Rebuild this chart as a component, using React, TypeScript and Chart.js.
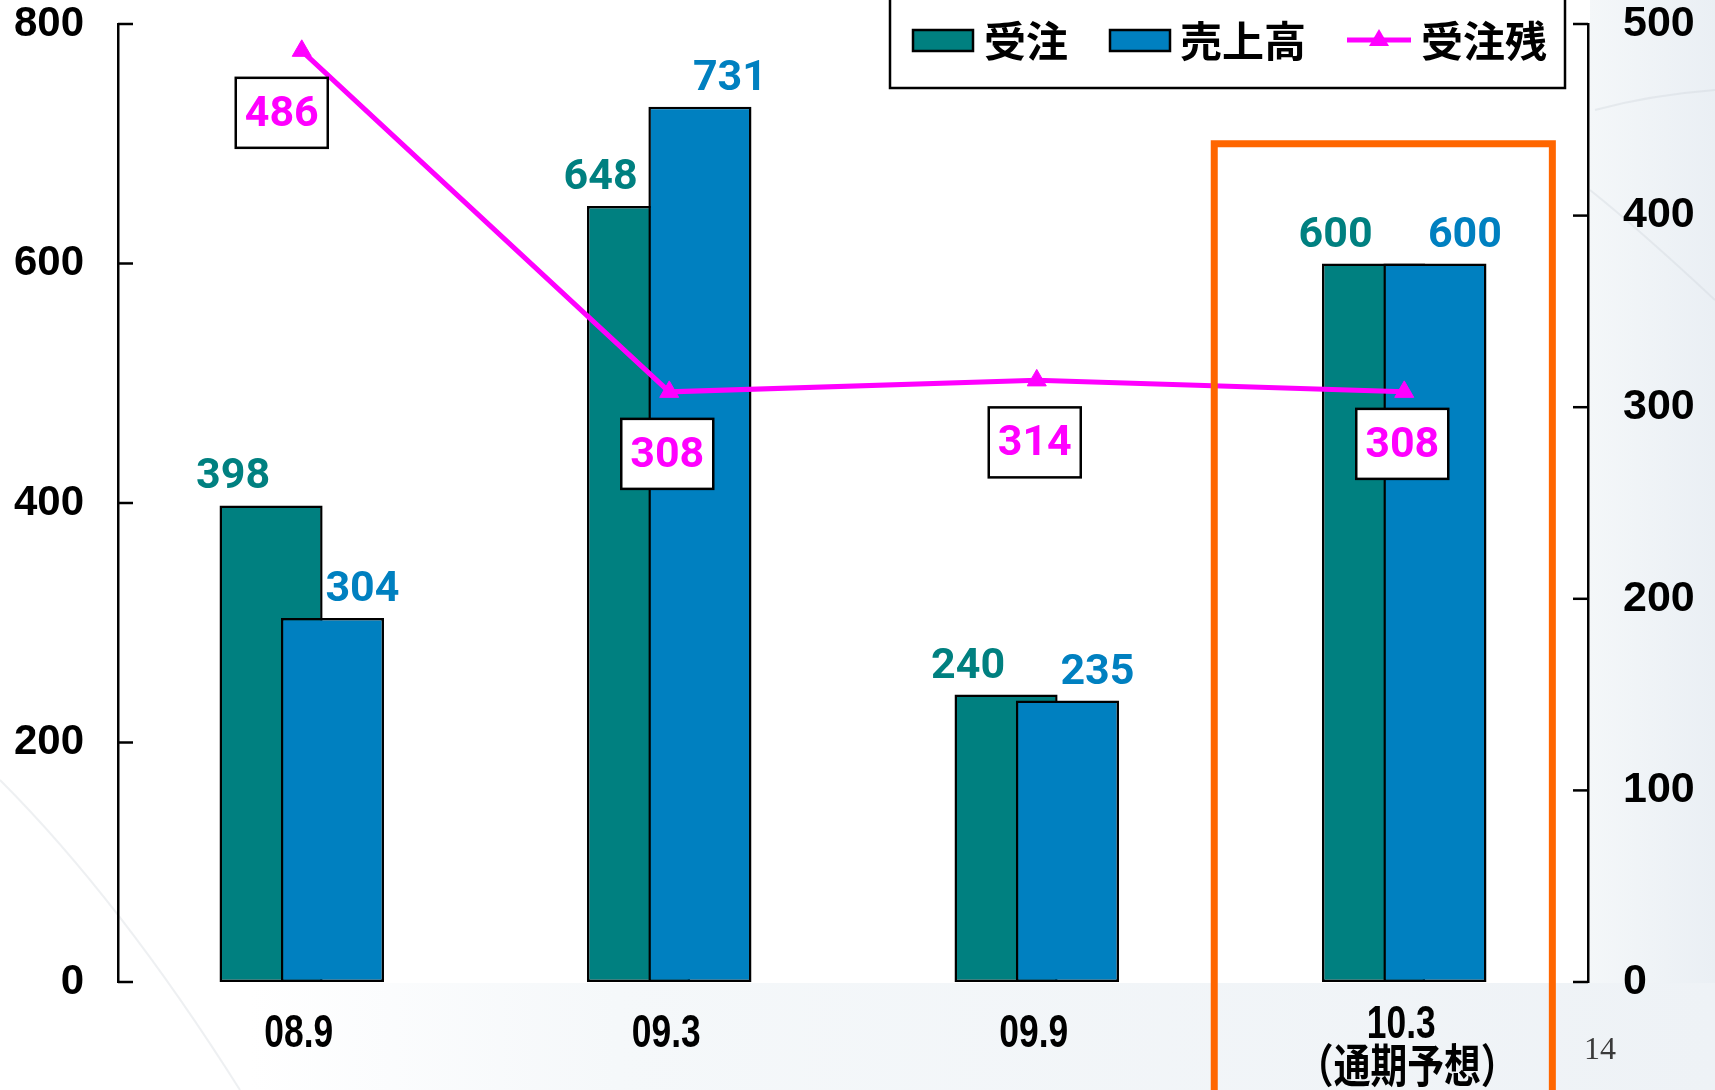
import React, { useEffect, useRef } from "react";
import { Chart, registerables } from "chart.js";

Chart.register(...registerables);

// ---- Data ----
const categories: (string | string[])[] = ["08.9", "09.3", "09.9", ["10.3", "（通期予想）"]];
const ordersReceived = [398, 648, 240, 600]; // 受注
const sales = [304, 731, 235, 600]; // 売上高
const backlog = [486, 308, 314, 308]; // 受注残
const seriesNames = ["受注", "売上高", "受注残"];
const leftAxis = { min: 0, max: 800, step: 200 };
const rightAxis = { min: 0, max: 500, step: 100 };
const highlight = { index: 3, topValue: 700 };
const pageNumber = "14";

// ---- Styles ----
const TEAL = "#008080";
const BLUE = "#0080C0";
const MAGENTA = "#FF00FF";
const ORANGE = "#FF6600";
const LABEL_FONT = "bold 43px Roboto, 'Liberation Sans', sans-serif";
const CJK_FONT = "bold 42px 'Noto Sans CJK JP', sans-serif";
const CAT_FONT = "bold 46px 'Liberation Sans', 'Noto Sans CJK JP', sans-serif";

const bgPlugin = {
  id: "bgPaint",
  beforeDraw(chart: any) {
    const { ctx, width, height, chartArea } = chart;
    ctx.save();
    ctx.fillStyle = "#ffffff";
    ctx.fillRect(0, 0, width, height);
    const gR = ctx.createLinearGradient(chartArea.right, 0, width, 0);
    gR.addColorStop(0, "#F4F7F9");
    gR.addColorStop(1, "#EAEFF4");
    ctx.fillStyle = gR;
    ctx.fillRect(chartArea.right + 2, 0, width - chartArea.right, height);
    const gB = ctx.createLinearGradient(250, 0, width, 0);
    gB.addColorStop(0, "rgba(244,247,250,0)");
    gB.addColorStop(0.25, "#F5F8FA");
    gB.addColorStop(1, "#EEF2F6");
    ctx.fillStyle = gB;
    ctx.fillRect(0, chartArea.bottom + 1, width, height - chartArea.bottom);
    ctx.strokeStyle = "rgba(200,205,212,0.3)";
    ctx.lineWidth = 2;
    ctx.beginPath();
    ctx.moveTo(0, 780);
    ctx.quadraticCurveTo(120, 900, 240, 1090);
    ctx.stroke();
    ctx.beginPath();
    ctx.moveTo(1595, 110);
    ctx.quadraticCurveTo(1650, 95, 1715, 90);
    ctx.stroke();
    ctx.beginPath();
    ctx.moveTo(1715, 300);
    ctx.quadraticCurveTo(1640, 230, 1590, 190);
    ctx.stroke();
    ctx.restore();
  },
};

// draw teal first, then blue on top (blue overlaps teal), line above all
const barOrderPlugin = {
  id: "barOrder",
  beforeDatasetDraw(chart: any, args: any) {
    if (args.index === 0) return false;
    if (args.index === 1) {
      chart.getDatasetMeta(0).controller.draw();
    }
    return true;
  },
};

const labelsPlugin = {
  id: "valueLabels",
  afterDatasetsDraw(chart: any) {
    const ctx = chart.ctx;
    ctx.save();
    ctx.font = LABEL_FONT;
    ctx.textAlign = "center";
    ctx.textBaseline = "alphabetic";
    const tealMeta = chart.getDatasetMeta(0);
    tealMeta.data.forEach((el: any, i: number) => {
      ctx.fillStyle = TEAL;
      ctx.fillText(String(ordersReceived[i]), el.x - 38, el.y - 17);
    });
    const blueMeta = chart.getDatasetMeta(1);
    blueMeta.data.forEach((el: any, i: number) => {
      ctx.fillStyle = BLUE;
      ctx.fillText(String(sales[i]), el.x + 30, el.y - 17);
    });
    const lineMeta = chart.getDatasetMeta(2);
    lineMeta.data.forEach((pt: any, i: number) => {
      const w = 92, h = 70;
      const cx = pt.x - (i === 0 ? 20 : 2);
      const cy = pt.y + (i === 3 ? 52 : 62);
      ctx.fillStyle = "#ffffff";
      ctx.fillRect(cx - w / 2, cy - h / 2, w, h);
      ctx.strokeStyle = "#000000";
      ctx.lineWidth = 2.5;
      ctx.strokeRect(cx - w / 2, cy - h / 2, w, h);
      ctx.fillStyle = MAGENTA;
      ctx.textBaseline = "middle";
      ctx.fillText(String(backlog[i]), cx, cy + 2);
      ctx.textBaseline = "alphabetic";
    });
    ctx.restore();
  },
};

const overlayPlugin = {
  id: "overlay",
  afterDraw(chart: any) {
    const ctx = chart.ctx;
    const { chartArea } = chart;
    const yL = chart.scales.y;
    const yR = chart.scales.y1;
    const x = chart.scales.x;
    ctx.save();
    // inner tick marks
    ctx.strokeStyle = "#000";
    ctx.lineWidth = 2.5;
    for (let v = leftAxis.min; v <= leftAxis.max; v += leftAxis.step) {
      const py = yL.getPixelForValue(v);
      ctx.beginPath();
      ctx.moveTo(chartArea.left, py);
      ctx.lineTo(chartArea.left + 15, py);
      ctx.stroke();
    }
    for (let v = rightAxis.min; v <= rightAxis.max; v += rightAxis.step) {
      const py = yR.getPixelForValue(v);
      ctx.beginPath();
      ctx.moveTo(chartArea.right - 15, py);
      ctx.lineTo(chartArea.right, py);
      ctx.stroke();
    }

    // category labels (condensed bold)
    ctx.fillStyle = "#000";
    ctx.font = CAT_FONT;
    ctx.textAlign = "center";
    ctx.textBaseline = "middle";
    categories.forEach((lab, i) => {
      const lines = Array.isArray(lab) ? lab : [lab];
      const px = x.getPixelForValue(i);
      lines.forEach((ln, j) => {
        ctx.save();
        ctx.translate(px - 3 + j * 6, chartArea.bottom + (lines.length > 1 ? 43 : 52) + j * 44);
        ctx.scale(j === 0 ? 0.77 : 0.8, 1);
        ctx.fillText(ln, 0, 0);
        ctx.restore();
      });
    });

    // legend
    const lx0 = 890, lx1 = 1565, ly1 = 88;
    ctx.fillStyle = "#fff";
    ctx.fillRect(lx0, -5, lx1 - lx0, ly1 + 5);
    ctx.strokeStyle = "#000";
    ctx.lineWidth = 2.5;
    ctx.strokeRect(lx0, -5, lx1 - lx0, ly1 + 5);
    const cy = 40;
    ctx.font = CJK_FONT;
    ctx.textBaseline = "middle";
    ctx.textAlign = "left";
    ctx.fillStyle = TEAL;
    ctx.fillRect(913, 30, 60, 21);
    ctx.lineWidth = 2.5;
    ctx.strokeRect(913, 30, 60, 21);
    ctx.fillStyle = "#000";
    ctx.fillText(seriesNames[0], 984, cy + 1);
    ctx.fillStyle = BLUE;
    ctx.fillRect(1110, 30, 60, 21);
    ctx.strokeRect(1110, 30, 60, 21);
    ctx.fillStyle = "#000";
    ctx.fillText(seriesNames[1], 1180, cy + 1);
    ctx.strokeStyle = MAGENTA;
    ctx.lineWidth = 5;
    ctx.beginPath();
    ctx.moveTo(1347, cy);
    ctx.lineTo(1411, cy);
    ctx.stroke();
    ctx.fillStyle = MAGENTA;
    ctx.beginPath();
    ctx.moveTo(1379, cy - 11);
    ctx.lineTo(1389, cy + 6);
    ctx.lineTo(1369, cy + 6);
    ctx.closePath();
    ctx.fill();
    ctx.fillStyle = "#000";
    ctx.fillText(seriesNames[2], 1421, cy + 1);

    // highlight rectangle around forecast category
    const cw = x.getPixelForValue(1) - x.getPixelForValue(0);
    const cxh = x.getPixelForValue(highlight.index);
    const top = yL.getPixelForValue(highlight.topValue);
    ctx.strokeStyle = ORANGE;
    ctx.lineWidth = 7;
    ctx.beginPath();
    ctx.moveTo(cxh - cw * 0.517, chart.height + 10);
    ctx.lineTo(cxh - cw * 0.517, top);
    ctx.lineTo(cxh + cw * 0.403, top);
    ctx.lineTo(cxh + cw * 0.403, chart.height + 10);
    ctx.stroke();

    // page number
    ctx.fillStyle = "#3a3a3a";
    ctx.font = "32px 'Liberation Serif', 'DejaVu Serif', serif";
    ctx.textAlign = "left";
    ctx.textBaseline = "alphabetic";
    ctx.fillText(pageNumber, 1584, 1059);
    ctx.restore();
  },
};

export default function App() {
  const canvasRef = useRef<HTMLCanvasElement | null>(null);

  useEffect(() => {
    if (!canvasRef.current) return;
    const chart = new Chart(canvasRef.current, {
      type: "bar",
      data: {
        labels: categories as any,
        datasets: [
          {
            type: "bar",
            label: seriesNames[0],
            data: ordersReceived,
            backgroundColor: TEAL,
            borderColor: "#000",
            borderWidth: 2.5,
            borderSkipped: false,
            categoryPercentage: 0.334,
            barPercentage: 1.68,
            yAxisID: "y",
            order: 0,
          },
          {
            type: "bar",
            label: seriesNames[1],
            data: sales,
            backgroundColor: BLUE,
            borderColor: "#000",
            borderWidth: 2.5,
            borderSkipped: false,
            categoryPercentage: 0.334,
            barPercentage: 1.68,
            yAxisID: "y",
            order: 0,
          },
          {
            type: "line",
            label: seriesNames[2],
            data: backlog,
            borderColor: MAGENTA,
            backgroundColor: MAGENTA,
            borderWidth: 5,
            pointStyle: "triangle",
            pointRadius: 11,
            pointBackgroundColor: MAGENTA,
            pointBorderColor: MAGENTA,
            pointBorderWidth: 1,
            tension: 0,
            fill: false,
            yAxisID: "y1",
            order: -1,
          } as any,
        ],
      },
      options: {
        responsive: false,
        animation: false,
        devicePixelRatio: 1,
        layout: { padding: { top: 24, left: 0, right: 0, bottom: 0 } },
        plugins: {
          legend: { display: false },
          tooltip: { enabled: false },
        },
        scales: {
          x: {
            type: "category",
            offset: true,
            grid: { display: false },
            border: { display: false },
            ticks: { display: false },
            afterFit(scale: any) {
              scale.height = 108;
              scale.paddingLeft = 0;
              scale.paddingRight = 0;
            },
          },
          y: {
            position: "left",
            min: leftAxis.min,
            max: leftAxis.max,
            grid: { display: false },
            border: { display: true, color: "#000", width: 2.5 },
            ticks: {
              stepSize: leftAxis.step,
              color: "#000",
              padding: 26,
              font: { family: "'Liberation Sans', Arial, sans-serif", size: 42, weight: "bold" },
            },
            afterFit(scale: any) {
              scale.width = 118;
              scale.paddingTop = 0;
              scale.paddingBottom = 0;
            },
          },
          y1: {
            position: "right",
            min: rightAxis.min,
            max: rightAxis.max,
            grid: { display: false },
            border: { display: true, color: "#000", width: 2.5 },
            ticks: {
              stepSize: rightAxis.step,
              color: "#000",
              padding: 27,
              font: { family: "'Liberation Sans', Arial, sans-serif", size: 43, weight: "bold" },
            },
            afterFit(scale: any) {
              scale.width = 127;
              scale.paddingTop = 0;
              scale.paddingBottom = 0;
            },
          },
        },
      } as any,
      plugins: [bgPlugin, barOrderPlugin, labelsPlugin, overlayPlugin] as any,
    });
    return () => chart.destroy();
  }, []);

  return (
    <div style={{ position: "absolute", left: 0, top: 0, width: 1715, height: 1090 }}>
      <canvas ref={canvasRef} width={1715} height={1090} style={{ width: 1715, height: 1090, display: "block" }} />
    </div>
  );
}
